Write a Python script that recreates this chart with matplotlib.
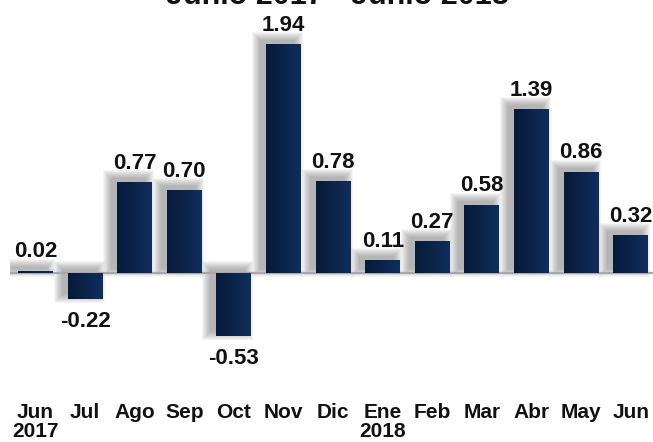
import matplotlib
matplotlib.use("Agg")
import matplotlib.pyplot as plt
import numpy as np
from matplotlib.patches import Rectangle
from matplotlib.colors import LinearSegmentedColormap

months = ["Jun\n2017", "Jul", "Ago", "Sep", "Oct", "Nov", "Dic",
          "Ene\n2018", "Feb", "Mar", "Abr", "May", "Jun"]
values = [0.02, -0.22, 0.77, 0.70, -0.53, 1.94, 0.78,
          0.11, 0.27, 0.58, 1.39, 0.86, 0.32]
value_labels = ["0.02", "-0.22", "0.77", "0.70", "-0.53", "1.94", "0.78",
                "0.11", "0.27", "0.58", "1.39", "0.86", "0.32"]
title = "Junio 2017 - Junio 2018"

plt.rcParams['font.family'] = ['Liberation Sans', 'DejaVu Sans']

W, H = 653, 442
fig = plt.figure(figsize=(W / 100, H / 100), dpi=100)
ax_left = 10 / W
ax_bottom = 47 / H
ax = fig.add_axes([ax_left, ax_bottom, 1 - ax_left, 1 - ax_bottom])

px_x = 49.6   # pixels per category
px_y = 118.0  # pixels per unit
xlim = (-25.5 / px_x, (W - 10 - 25.5) / px_x)
ylim = (-122 / px_y, 273 / px_y)

x = np.arange(len(values))
width = 0.705

# soft shadows (up-left)
ux = 1 / px_x
uy = 1 / px_y
for xi, v in zip(x, values):
    x0, x1 = xi - width / 2, xi + width / 2
    y0, y1 = min(0, v), max(0, v)
    sx, sy = -6 * ux, 4 * uy
    for r in range(0, 9):
        ax.add_patch(Rectangle((x0 + sx - r * ux, y0 + sy - r * uy),
                               (x1 - x0) + 2 * r * ux, (y1 - y0) + 2 * r * uy,
                               facecolor="#505050", edgecolor="none",
                               alpha=0.055, zorder=1))

ax.axhline(0, color="#a8a8a8", lw=1.6, zorder=2)

bars = ax.bar(x, values, width=width, color="#0c2650", zorder=3)

grad = np.linspace(0, 1, 64).reshape(1, -1)
cmap = LinearSegmentedColormap.from_list("g", ["#081a38", "#0f2e5c"])
for b in bars:
    bx, by = b.get_x(), b.get_y()
    bw, bh = b.get_width(), b.get_height()
    y_lo, y_hi = min(by, by + bh), max(by, by + bh)
    im = ax.imshow(grad, cmap=cmap, aspect="auto",
                   extent=[bx, bx + bw, y_lo, y_hi], zorder=4)
    im.set_clip_path(b)

ax.set_xlim(*xlim)
ax.set_ylim(*ylim)

for xi, v, lab in zip(x, values, value_labels):
    if v >= 0:
        ax.annotate(lab, (xi, v), xytext=(0, 9.5), textcoords="offset points",
                    ha="center", va="baseline", fontsize=16, fontweight="bold",
                    color="#111111", zorder=5)
    else:
        ax.annotate(lab, (xi, v), xytext=(0, -9), textcoords="offset points",
                    ha="center", va="top", fontsize=16, fontweight="bold",
                    color="#111111", zorder=5)

ax.set_xticks(x)
ax.set_xticklabels(months, fontsize=15, fontweight="bold", color="#111111",
                   linespacing=1.0)
ax.tick_params(axis="x", length=0, pad=6)
ax.set_yticks([])
for s in ax.spines.values():
    s.set_visible(False)

fig.text(337 / W, 1 - 3.5 / H, title, ha="center", va="baseline",
         fontsize=22, fontweight="bold", color="#111111")

fig.savefig("out.png", dpi=100)
